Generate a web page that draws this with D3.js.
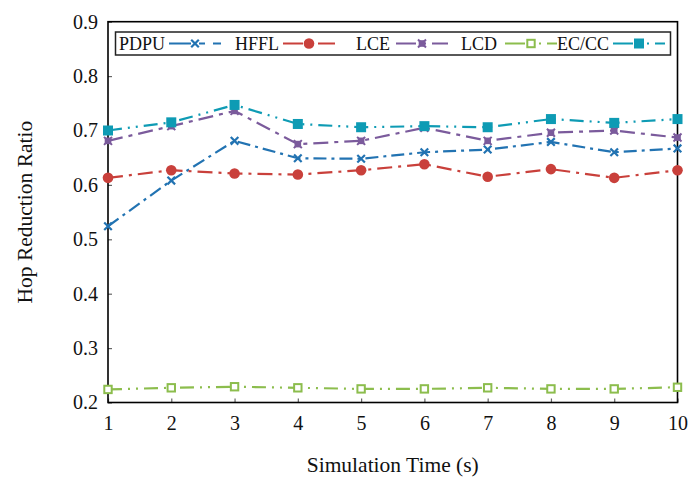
<!DOCTYPE html>
<html><head><meta charset="utf-8">
<script src="https://cdn.jsdelivr.net/npm/d3@7"></script>
<style>body{margin:0;background:#fff}svg{display:block}text{font-family:"Liberation Serif","Times New Roman",serif;fill:#111}</style>
</head><body><div id="chart"></div>
<script>
const times = [1,2,3,4,5,6,7,8,9,10];
const seriesNames = ["PDPU","HFFL","LCE","LCD","EC/CC"];
const pdpu = [0.524,0.608,0.681,0.649,0.648,0.660,0.665,0.679,0.660,0.667];
const hffl = [0.613,0.627,0.621,0.619,0.627,0.638,0.615,0.629,0.613,0.627];
const lce  = [0.681,0.708,0.736,0.675,0.681,0.705,0.681,0.696,0.700,0.687];
const lcd  = [0.224,0.227,0.229,0.227,0.225,0.225,0.227,0.225,0.225,0.228];
const eccc = [0.700,0.715,0.747,0.712,0.706,0.708,0.706,0.721,0.714,0.721];
const yTicks = [0.2,0.3,0.4,0.5,0.6,0.7,0.8,0.9];
const xLabel = "Simulation Time (s)";
const yLabel = "Hop Reduction Ratio";

const colors = ["#2273b2","#c9403b","#7b5b9c","#8cbd4d","#0e9bb4"];
const dashes = ["13,5,3,5","15,6,3,6","15,6,4,6","14,6,2,6,2,6","14,6,2,6,2,6"];
const markers = ["x","circle","star","osquare","fsquare"];
const values = [pdpu,hffl,lce,lcd,eccc];

const W=691,H=477, L=108,R=677.5,T=21.7,B=402.5;
const svg=d3.select("#chart").append("svg").attr("width",W).attr("height",H);
const x=d3.scaleLinear().domain([1,10]).range([L,R]);
const y=d3.scaleLinear().domain([0.2,0.9]).range([B,T]);

// axes
const xAxis=d3.axisBottom(x).tickValues(times).tickSizeInner(-4).tickSizeOuter(0).tickPadding(13).tickFormat(d3.format("d"));
const yAxis=d3.axisLeft(y).tickValues(yTicks).tickSizeInner(-4).tickSizeOuter(0).tickPadding(10).tickFormat(d3.format(".1f"));
const gx=svg.append("g").attr("transform",`translate(0,${B})`).call(xAxis);
const gy=svg.append("g").attr("transform",`translate(${L},0)`).call(yAxis);
[gx,gy].forEach(g=>{g.select(".domain").remove();g.selectAll("line").attr("stroke","#666").attr("stroke-width",1.2);g.selectAll("text").attr("font-size",20).attr("font-family","Liberation Serif").attr("fill","#111");});

svg.append("rect").attr("x",L).attr("y",T).attr("width",R-L).attr("height",B-T).attr("fill","none").attr("stroke","#000").attr("stroke-width",1.6);

svg.append("text").attr("x",(L+R)/2).attr("y",472).attr("text-anchor","middle").attr("font-size",21.5).text(xLabel);
svg.append("text").attr("transform",`translate(32,${(T+B)/2}) rotate(-90)`).attr("text-anchor","middle").attr("font-size",21.5).text(yLabel);

function drawMarker(g,type,cx,cy,color){
  if(type==="x"){
    const s=3.8;
    g.append("path").attr("d",`M${cx-s},${cy-s}L${cx+s},${cy+s}M${cx-s},${cy+s}L${cx+s},${cy-s}`).attr("stroke",color).attr("stroke-width",2.2).attr("fill","none");
  } else if(type==="circle"){
    g.append("circle").attr("cx",cx).attr("cy",cy).attr("r",5.3).attr("fill",color);
  } else if(type==="star"){
    const s=4;
    g.append("rect").attr("x",cx-3.3).attr("y",cy-3.3).attr("width",6.6).attr("height",6.6).attr("fill",color);
    g.append("path").attr("d",`M${cx-s},${cy-s}L${cx+s},${cy+s}M${cx-s},${cy+s}L${cx+s},${cy-s}`).attr("stroke",color).attr("stroke-width",2).attr("fill","none");
  } else if(type==="osquare"){
    g.append("rect").attr("x",cx-3.7).attr("y",cy-3.7).attr("width",7.4).attr("height",7.4).attr("fill","#fff").attr("stroke",color).attr("stroke-width",2);
  } else if(type==="fsquare"){
    g.append("rect").attr("x",cx-5).attr("y",cy-5).attr("width",10).attr("height",10).attr("fill",color);
  }
}

const line=d3.line().x((d,i)=>x(times[i])).y(d=>y(d));
values.forEach((vals,k)=>{
  const g=svg.append("g");
  g.append("path").datum(vals).attr("d",line).attr("fill","none").attr("stroke",colors[k]).attr("stroke-width",2.2).attr("stroke-dasharray",dashes[k]);
  vals.forEach((v,i)=>drawMarker(g,markers[k],x(times[i]),y(v),colors[k]));
});

// legend
const lg=svg.append("g");
lg.append("rect").attr("x",115.5).attr("y",32).attr("width",555).attr("height",23).attr("fill","#fff").attr("stroke","#222").attr("stroke-width",1.5);
const textX=[119,235,356,461,557];
const lineX=[169,283,396,505,613];
const lineLen=52;
seriesNames.forEach((n,k)=>{
  lg.append("text").attr("x",textX[k]).attr("y",50).attr("font-size",18).text(n);
  lg.append("line").attr("x1",lineX[k]).attr("x2",lineX[k]+lineLen).attr("y1",43.5).attr("y2",43.5).attr("stroke",colors[k]).attr("stroke-width",2.2).attr("stroke-dasharray",dashes[k]==="13,5,3,5"?"22,8,6,8":dashes[k].split(",").map((d,i)=>i===0?20:d).join(","));
  drawMarker(lg,markers[k],lineX[k]+lineLen/2,43.5,colors[k]);
});
</script></body></html>
